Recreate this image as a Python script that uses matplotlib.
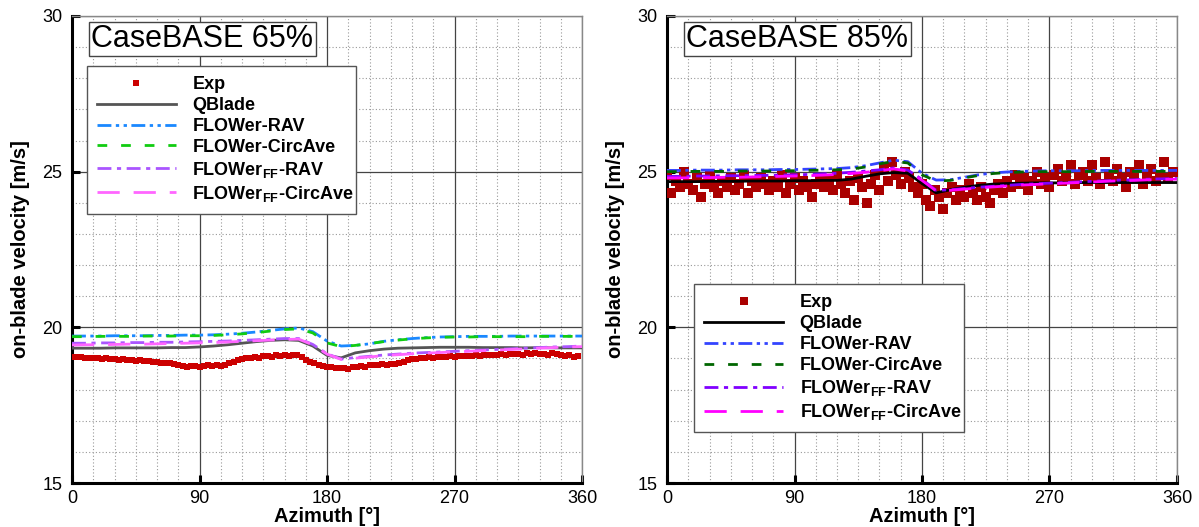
import numpy as np
import matplotlib
matplotlib.use("Agg")
import matplotlib.pyplot as plt
from matplotlib.ticker import MultipleLocator

plt.rcParams['font.family'] = ['Liberation Sans', 'DejaVu Sans']
plt.rcParams['mathtext.fontset'] = 'custom'
plt.rcParams['mathtext.rm'] = 'Liberation Sans'
plt.rcParams['mathtext.bf'] = 'Liberation Sans:bold'

# ---------------- data ----------------
az_exp = np.arange(0, 360, 3)          # 120 experimental azimuths
az_sim = np.arange(0, 361, 10)         # 37 simulation azimuths

labels = ["Exp", "QBlade", "FLOWer-RAV", "FLOWer-CircAve",
          r"FLOWer$_{\mathbf{FF}}$-RAV", r"FLOWer$_{\mathbf{FF}}$-CircAve"]

# ---- CaseBASE 65% ----
exp65 = [19.06, 19.04, 19.05, 19.02, 19.03, 19.00, 19.01, 18.98, 19.00, 18.97, 18.98, 18.96, 18.97,
         18.95, 18.96, 18.93, 18.94, 18.92, 18.93, 18.90, 18.89, 18.87, 18.86, 18.84, 18.82, 18.79,
         18.76, 18.74, 18.77, 18.75, 18.73, 18.76, 18.78, 18.76, 18.79, 18.77, 18.80, 18.85, 18.90,
         18.95, 18.97, 19.00, 19.02, 19.05, 19.03, 19.07, 19.09, 19.06, 19.10, 19.08, 19.11, 19.07,
         19.10, 19.12, 19.05, 18.95, 18.88, 18.85, 18.80, 18.76, 18.72, 18.74, 18.70, 18.68, 18.70,
         18.67, 18.72, 18.74, 18.76, 18.74, 18.78, 18.80, 18.78, 18.81, 18.80, 18.83, 18.82, 18.86,
         18.90, 18.94, 18.97, 18.99, 19.00, 19.02, 19.04, 19.03, 19.05, 19.06, 19.04, 19.07, 19.06,
         19.08, 19.07, 19.09, 19.08, 19.10, 19.09, 19.11, 19.10, 19.12, 19.11, 19.13, 19.12, 19.14,
         19.13, 19.15, 19.12, 19.16, 19.14, 19.17, 19.13, 19.15, 19.12, 19.16, 19.13, 19.11, 19.09,
         19.10, 19.06, 19.08]
qblade65 = [19.33, 19.33, 19.33, 19.34, 19.34, 19.34, 19.34, 19.35, 19.35, 19.37, 19.40, 19.44, 19.49,
            19.54, 19.58, 19.60, 19.58, 19.40, 19.10, 19.02, 19.18, 19.25, 19.30, 19.33, 19.34, 19.35,
            19.36, 19.36, 19.36, 19.35, 19.35, 19.35, 19.34, 19.35, 19.34, 19.34, 19.34]
rav65 = [19.72, 19.72, 19.72, 19.73, 19.73, 19.73, 19.74, 19.74, 19.75, 19.75, 19.76, 19.78, 19.81,
         19.85, 19.90, 19.95, 19.98, 19.86, 19.56, 19.40, 19.42, 19.47, 19.55, 19.60, 19.64, 19.67,
         19.69, 19.70, 19.71, 19.71, 19.71, 19.72, 19.72, 19.72, 19.72, 19.72, 19.72]
circ65 = [19.70, 19.70, 19.71, 19.71, 19.71, 19.72, 19.72, 19.72, 19.73, 19.73, 19.74, 19.76, 19.79,
          19.83, 19.88, 19.93, 19.95, 19.82, 19.50, 19.38, 19.42, 19.48, 19.54, 19.59, 19.63, 19.66,
          19.68, 19.69, 19.69, 19.70, 19.70, 19.70, 19.70, 19.71, 19.71, 19.71, 19.71]
ffrav65 = [19.49, 19.49, 19.50, 19.50, 19.51, 19.51, 19.52, 19.52, 19.53, 19.54, 19.55, 19.56, 19.58,
           19.60, 19.62, 19.64, 19.64, 19.45, 19.15, 18.98, 19.03, 19.07, 19.11, 19.14, 19.17, 19.19,
           19.21, 19.23, 19.25, 19.27, 19.29, 19.31, 19.33, 19.35, 19.37, 19.38, 19.40]
ffcirc65 = [19.43, 19.44, 19.44, 19.45, 19.46, 19.46, 19.47, 19.48, 19.49, 19.50, 19.51, 19.53, 19.55,
            19.57, 19.59, 19.61, 19.62, 19.44, 19.14, 18.97, 19.01, 19.05, 19.09, 19.12, 19.15, 19.17,
            19.19, 19.21, 19.23, 19.25, 19.27, 19.29, 19.31, 19.33, 19.35, 19.37, 19.38]

# ---- CaseBASE 85% ----
exp85 = [24.9, 24.3, 24.7, 24.5, 25.0, 24.6, 24.4, 24.8, 24.2, 24.6, 24.9, 24.5, 24.3,
         24.7, 24.5, 24.8, 24.4, 24.6, 24.9, 24.3, 24.7, 24.5, 24.8, 24.6, 24.4, 24.7,
         24.5, 24.9, 24.3, 24.6, 24.8, 24.4, 24.7, 24.5, 24.2, 24.6, 24.8, 24.5, 24.7,
         24.4, 24.9, 24.6, 24.3, 24.7, 24.1, 24.8, 24.5, 24.0, 24.6, 24.9, 24.4, 25.1,
         24.7, 25.3, 24.9, 24.6, 25.0, 24.8, 24.5, 24.3, 24.6, 24.1, 23.9, 24.4, 24.2,
         23.8, 24.3, 24.5, 24.1, 24.4, 24.2, 24.6, 24.3, 24.1, 24.5, 24.2, 24.0, 24.4,
         24.6, 24.3, 24.7, 24.5, 24.9, 24.6, 24.8, 24.4, 24.7, 25.0, 24.6, 24.8, 24.5,
         24.9, 25.1, 24.7, 24.8, 25.2, 24.6, 24.9, 25.0, 24.7, 25.2, 24.8, 24.6, 25.3,
         24.9, 24.7, 25.1, 24.8, 24.5, 25.0, 24.8, 25.2, 24.6, 24.9, 25.1, 24.7, 24.9,
         25.3, 24.8, 25.0]
qblade85 = [24.68, 24.68, 24.68, 24.69, 24.69, 24.69, 24.70, 24.70, 24.70, 24.71, 24.71, 24.72, 24.72,
            24.76, 24.85, 24.93, 24.97, 24.95, 24.62, 24.32, 24.42, 24.50, 24.56, 24.60, 24.62, 24.63,
            24.64, 24.64, 24.64, 24.65, 24.65, 24.65, 24.65, 24.65, 24.65, 24.65, 24.65]
rav85 = [25.04, 25.04, 25.05, 25.05, 25.05, 25.06, 25.06, 25.06, 25.07, 25.07, 25.08, 25.09, 25.10,
         25.13, 25.19, 25.28, 25.37, 25.32, 24.95, 24.73, 24.74, 24.82, 24.90, 24.96, 24.99, 25.01,
         25.02, 25.03, 25.03, 25.03, 25.04, 25.04, 25.04, 25.04, 25.04, 25.04, 25.04]
circ85 = [25.00, 25.00, 25.01, 25.01, 25.01, 25.02, 25.02, 25.02, 25.03, 25.03, 25.04, 25.05, 25.06,
          25.08, 25.15, 25.25, 25.33, 25.28, 24.90, 24.70, 24.72, 24.80, 24.88, 24.94, 24.97, 24.99,
          25.00, 25.00, 25.00, 25.00, 25.01, 25.01, 25.01, 25.01, 25.01, 25.01, 25.01]
ffrav85 = [24.85, 24.85, 24.86, 24.86, 24.87, 24.87, 24.88, 24.88, 24.89, 24.90, 24.91, 24.93, 24.95,
           24.98, 25.02, 25.06, 25.12, 25.05, 24.75, 24.40, 24.42, 24.46, 24.50, 24.53, 24.56, 24.59,
           24.61, 24.63, 24.65, 24.67, 24.69, 24.71, 24.73, 24.74, 24.76, 24.77, 24.78]
ffcirc85 = [24.80, 24.80, 24.81, 24.81, 24.82, 24.82, 24.83, 24.84, 24.85, 24.86, 24.87, 24.89, 24.91,
            24.94, 24.98, 25.03, 25.09, 25.02, 24.72, 24.38, 24.40, 24.44, 24.48, 24.51, 24.54, 24.57,
            24.59, 24.61, 24.63, 24.65, 24.67, 24.69, 24.71, 24.72, 24.74, 24.75, 24.76]

titles = ["CaseBASE 65%", "CaseBASE 85%"]

# ---------------- styles ----------------
sty_rav = (0, (5, 1.6, 1.2, 1.6, 1.2, 1.6))
sty_circ = (0, (3.5, 5))
sty_ffrav = (0, (5, 2, 1.5, 2))
sty_ffcirc = (0, (8, 5))

panels = [
    dict(exp=exp65, sims=[qblade65, rav65, circ65, ffrav65, ffcirc65],
         colors=["#cc0000", "#555555", "#1a88ff", "#11cc11", "#aa55ff", "#ff66ff"],
         ms=5.0, leg=(0.029, 0.578, 0.528, 0.315)),
    dict(exp=exp85, sims=[qblade85, rav85, circ85, ffrav85, ffcirc85],
         colors=["#aa0000", "#000000", "#3344ff", "#006600", "#8000ff", "#ff00ff"],
         ms=7.0, leg=(0.053, 0.109, 0.529, 0.317)),
]
sim_styles = ["-", sty_rav, sty_circ, sty_ffrav, sty_ffcirc]

fig = plt.figure(figsize=(11.99, 5.27), dpi=100)
axes = [fig.add_axes([72 / 1199, 44 / 527, 510 / 1199, 467 / 527]),
        fig.add_axes([667 / 1199, 44 / 527, 510 / 1199, 467 / 527])]

for ax, p, title in zip(axes, panels, titles):
    c = p["colors"]
    handles = []
    h, = ax.plot(az_exp, p["exp"], ls="none", marker="s", ms=p["ms"], color=c[0],
                 mew=0, zorder=3)
    handles.append(h)
    for i, (vals, ls) in enumerate(zip(p["sims"], sim_styles)):
        h, = ax.plot(az_sim, vals, ls=ls, lw=2.0, color=c[i + 1], zorder=4)
        handles.append(h)

    ax.set_xlim(0, 360)
    ax.set_ylim(15, 30)
    ax.xaxis.set_major_locator(MultipleLocator(90))
    ax.xaxis.set_minor_locator(MultipleLocator(15))
    ax.yaxis.set_major_locator(MultipleLocator(5))
    ax.yaxis.set_minor_locator(MultipleLocator(1))
    ax.grid(which="major", color="#444444", lw=0.9, ls="-")
    ax.grid(which="minor", color="#999999", lw=0.8, ls=(0, (1, 2)))
    ax.set_axisbelow(True)
    ax.tick_params(which="major", direction="in", length=6, width=2.2,
                   labelsize=13, color="black", pad=5)
    ax.tick_params(which="minor", length=0)
    ax.tick_params(axis="y", pad=7)
    for s in ["left", "bottom"]:
        ax.spines[s].set_linewidth(2.2)
        ax.spines[s].set_color("black")
    for s in ["top", "right"]:
        ax.spines[s].set_linewidth(1.0)
        ax.spines[s].set_color("#888888")

    ax.set_xlabel("Azimuth [°]", fontsize=14.5, fontweight="bold", labelpad=0)
    ax.set_ylabel("on-blade velocity [m/s]", fontsize=14.5, fontweight="bold", labelpad=9)

    ax.text(0.038, 0.983, title, transform=ax.transAxes, fontsize=22, ha="left", va="top",
            bbox=dict(boxstyle="square,pad=0.07", fc="white", ec="#444444", lw=1.0), zorder=6)

    leg = ax.legend(handles, labels, loc="upper left", bbox_to_anchor=p["leg"], mode="expand",
                    borderaxespad=0, handlelength=4.4, handletextpad=0.9, labelspacing=0.22,
                    borderpad=0.55, fancybox=False, framealpha=1, edgecolor="#555555",
                    prop=dict(weight="bold", size=13), numpoints=1, markerscale=0.8)
    leg.get_frame().set_linewidth(1.0)
    leg.set_zorder(7)

fig.savefig("out.png", dpi=100)
